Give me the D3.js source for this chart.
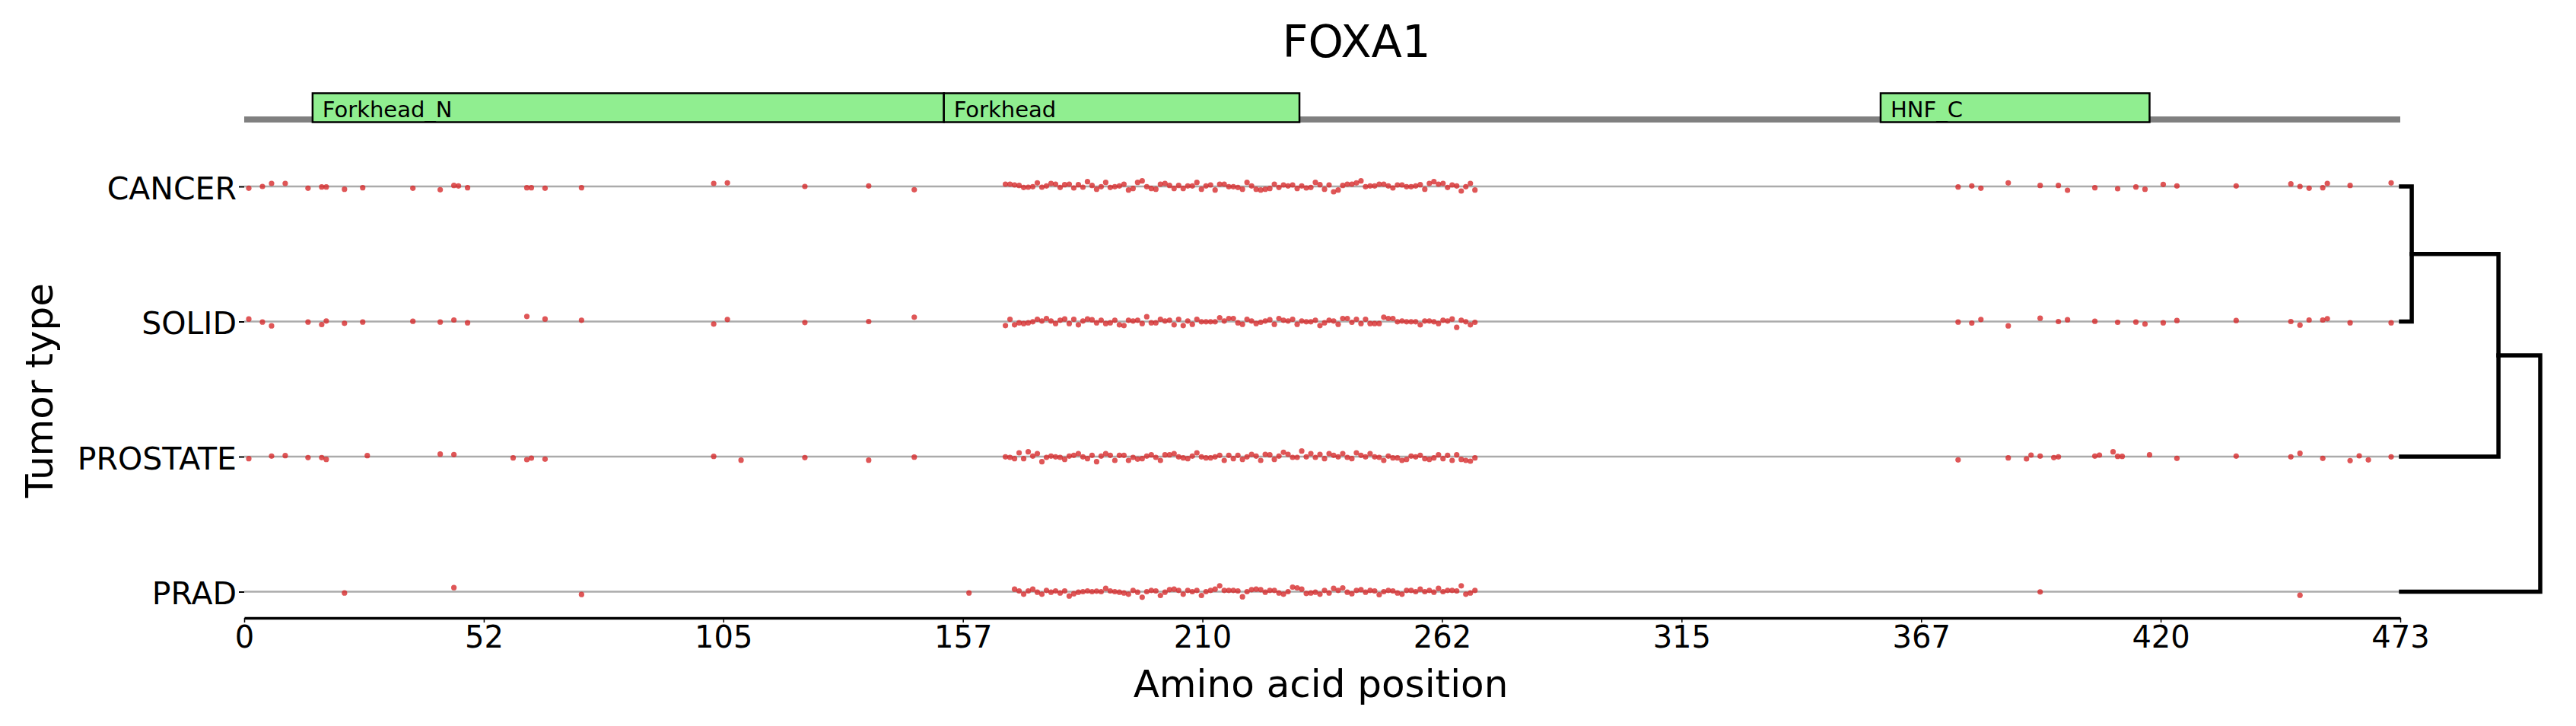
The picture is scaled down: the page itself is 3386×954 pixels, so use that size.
<!DOCTYPE html>
<html><head><meta charset="utf-8">
<script src="https://cdn.jsdelivr.net/npm/d3@7"></script>
<style>body{margin:0;background:#fff}svg{display:block}text{font-family:"DejaVu Sans",sans-serif;fill:#000}</style>
</head><body><svg id="c" width="3386" height="954"></svg>
<script>
// ---------------- data ----------------
const title = "FOXA1";
const proteinLength = 473;
const categories = ["CANCER", "SOLID", "PROSTATE", "PRAD"];
const xTickValues = [0, 52.56, 105.11, 157.67, 210.22, 262.78, 315.33, 367.89, 420.44, 473];
const xTickLabels = ["0", "52", "105", "157", "210", "262", "315", "367", "420", "473"];
const domainNames = ["Forkhead_N", "Forkhead", "HNF_C"];
const domainStarts = [15, 153.5, 359];
const domainEnds = [153.5, 231.5, 418];

const hotspotPositions = [167,168,169,170,171,172,173,174,175,176,177,178,179,180,181,182,183,184,185,186,187,188,189,190,191,192,193,194,195,196,197,198,199,200,201,202,203,204,205,206,207,208,209,210,211,212,213,214,215,216,217,218,219,220,221,222,223,224,225,226,227,228,229,230,231,232,233,234,235,236,237,238,239,240,241,242,243,244,245,246,247,248,249,250,251,252,253,254,255,256,257,258,259,260,261,262,263,264,265,266,267,268,269,270];

// CANCER
const cancerLeftPos = [1,4,6,9,14,17,18,22,26,37,43,46,47,49,62,63,66,74,103,106,123,137,147];
const cancerLeftJit = [7,0,-12,-12,7,2,2,11,5,7,13,-4,-2,5,5,5,7,5,-12,-14,0,-2,13];
const cancerHotJit = [-9,-9,-6,-4,4,3,1,-14,3,-2,-12,-9,4,-7,-9,6,-7,3,-19,-4,11,1,-16,4,1,-2,-9,14,8,-16,-22,1,8,11,-9,-12,-4,8,-4,8,-2,-2,-16,11,-2,-6,14,-9,-9,1,1,4,11,-16,-2,11,14,11,8,-9,4,-6,-2,-6,8,-2,6,4,-16,-7,11,-6,21,14,-4,-9,-9,-14,-22,1,-2,-2,-9,-9,-2,6,-6,-6,1,1,-2,-7,11,-12,-19,-9,-12,4,-6,-2,18,1,-12,14];
const cancerRightPos = [376,379,381,387,394,398,400,406,411,415,417,421,424,437,449,451,453,456,457,462,471];
const cancerRightJit = [2,-2,7,-14,-4,-4,15,5,9,2,11,-8,-2,-2,-10,0,7,5,-12,-4,-14];

// SOLID
const solidLeftPos = [1,4,6,14,17,18,22,26,37,43,46,49,62,66,74,103,106,123,137,147];
const solidLeftJit = [-10,2,17,2,12,-2,7,2,-1,2,-6,5,-20,-10,-5,10,-8,4,0,-17];
const solidHotJit = [16,-9,13,5,8,5,1,-9,-2,-12,-2,8,-5,-10,8,-9,13,-2,-10,-7,5,-5,8,5,-5,13,16,-5,-2,-5,8,-19,5,5,-9,-2,-5,13,-9,16,-2,11,-9,1,1,1,1,-15,-2,-12,-12,5,11,-9,-2,8,3,-2,-7,11,-12,-5,-2,-9,11,-2,1,1,-5,16,5,-5,-2,11,-12,-12,3,-9,8,-9,8,8,8,-17,-12,-12,1,-2,1,1,1,13,-2,-2,1,8,-5,-2,-10,23,-5,1,13,3];
const solidRightPos = [376,379,381,387,394,398,400,406,411,415,417,421,424,437,449,451,453,456,457,462,471];
const solidRightJit = [2,6,-8,17,-13,0,-7,-1,3,2,10,5,-4,-4,0,14,-6,-6,-11,5,5];

// PROSTATE
const prostateLeftPos = [1,6,9,14,17,18,27,43,46,59,62,63,66,103,109,123,137,147];
const prostateLeftJit = [8,-2,-4,4,4,11,-4,-10,-8,5,12,6,10,-1,14,4,14,2];
const prostateHotJit = [1,3,8,-15,8,-19,-2,-12,20,3,-2,1,3,11,-2,-5,-12,1,8,-5,20,-2,-12,-5,15,-5,-5,15,3,10,8,-2,-7,3,15,-7,-7,-12,1,5,8,-2,-15,1,5,5,1,-5,15,-5,8,-5,11,1,-9,-2,15,-9,-7,11,-2,-17,-9,3,3,-22,1,-12,3,-9,8,-12,-5,1,-12,3,8,-15,-5,1,-12,1,3,15,-2,5,5,15,11,-2,1,-5,8,11,5,-7,8,-5,15,-7,11,15,18,5];
const prostateRightPos = [376,387,391,392,394,397,398,406,407,410,411,412,418,424,437,449,451,456,462,464,466,471];
const prostateRightJit = [13,5,9,-6,-2,4,1,-2,-6,-19,-1,-1,-7,7,-2,1,-13,7,16,-3,13,1];

// PRAD
const pradLeftPos = [22,46,74,159];
const pradLeftJit = [5,-16,11,5];
const pradHotPos = hotspotPositions.slice(2);
const pradHotJit = [-10,-3,10,-3,-10,2,10,-5,2,-3,5,-3,17,8,2,0,-3,0,-2,0,-13,-3,0,2,5,10,-5,2,22,0,-5,-3,15,2,-8,-10,-5,10,-5,0,-5,15,0,-5,-10,-23,-5,-5,-5,-3,20,0,-8,-10,-8,2,-5,-5,5,10,0,-18,-15,-10,7,5,2,10,-5,5,-13,-5,-15,2,8,-5,-8,2,-5,-3,12,0,-5,-3,5,10,-5,-5,0,-10,0,-5,2,-13,0,-5,-5,-3,-23,10,5,-5];
const pradRightPos = [394,451];
const pradRightJit = [1,14];

// dendrogram (leaf order = categories); merge heights, relative
const dendroHeights = [0.077, 0.70, 1.0];

// ---------------- build ----------------
const rows = [
  {cat:"CANCER", pos:[...cancerLeftPos, ...hotspotPositions, ...cancerRightPos], jit:[...cancerLeftJit, ...cancerHotJit, ...cancerRightJit]},
  {cat:"SOLID", pos:[...solidLeftPos, ...hotspotPositions, ...solidRightPos], jit:[...solidLeftJit, ...solidHotJit, ...solidRightJit]},
  {cat:"PROSTATE", pos:[...prostateLeftPos, ...hotspotPositions, ...prostateRightPos], jit:[...prostateLeftJit, ...prostateHotJit, ...prostateRightJit]},
  {cat:"PRAD", pos:[...pradLeftPos, ...pradHotPos, ...pradRightPos], jit:[...pradLeftJit, ...pradHotJit, ...pradRightJit]}
];
const points = [];
rows.forEach(r => r.pos.forEach((p, i) => points.push({cat:r.cat, pos:p, jit:r.jit[i]})));

const svg = d3.select("#c");
svg.append("rect").attr("width", 3386).attr("height", 954).attr("fill", "#fff");

const x = d3.scaleLinear().domain([0, proteinLength]).range([321, 3155]);
const y = d3.scalePoint().domain(categories).range([245, 777.5]);
const jitter = d3.scaleLinear().domain([-30, 30]).range([-10, 10]);
const axisY = 812;

// title
svg.append("text").attr("x", 1783).attr("y", 75).attr("text-anchor", "middle")
  .style("font-size", "59px").text(title);

// protein backbone
const backboneY = 157;
svg.append("line").attr("x1", x(0)).attr("x2", x(proteinLength))
  .attr("y1", backboneY).attr("y2", backboneY)
  .attr("stroke", "#808080").attr("stroke-width", 8);

// domains
const dg = svg.append("g");
domainNames.forEach((name, i) => {
  dg.append("rect").attr("x", x(domainStarts[i])).attr("y", 122.5)
    .attr("width", x(domainEnds[i]) - x(domainStarts[i])).attr("height", 38)
    .attr("fill", "#90ee90").attr("stroke", "#000").attr("stroke-width", 2.5);
  dg.append("text").attr("x", x(domainStarts[i]) + 13).attr("y", 154)
    .style("font-size", "29px").text(name);
});

// row lines
svg.append("g").selectAll("line").data(categories).join("line")
  .attr("x1", x(0)).attr("x2", x(proteinLength))
  .attr("y1", d => y(d)).attr("y2", d => y(d))
  .attr("stroke", "#ababab").attr("stroke-width", 2.5);

// mutation points
svg.append("g").selectAll("circle").data(points).join("circle")
  .attr("cx", d => x(d.pos)).attr("cy", d => y(d.cat) + jitter(d.jit))
  .attr("r", 3.6).attr("fill", "#d62728").attr("fill-opacity", 0.78);

// x axis
const xAxis = svg.append("g").attr("transform", `translate(0,${axisY})`)
  .call(d3.axisBottom(x).tickValues(xTickValues).tickFormat((d, i) => xTickLabels[i])
    .tickSize(6).tickSizeOuter(0).tickPadding(5));
xAxis.select(".domain").attr("stroke", "#000").attr("stroke-width", 3.5);
xAxis.selectAll(".tick line").attr("stroke", "#000").attr("stroke-width", 1.5);
xAxis.selectAll(".tick text").style("font-size", "40px").attr("font-family", null);

// y axis
const yAxis = svg.append("g").attr("transform", `translate(${x(0)},0)`)
  .call(d3.axisLeft(y).tickSize(7).tickPadding(3));
yAxis.select(".domain").remove();
yAxis.selectAll(".tick line").attr("stroke", "#000").attr("stroke-width", 2);
yAxis.selectAll(".tick text").style("font-size", "41px").attr("dy", "0.4em").attr("font-family", null);

// axis labels
svg.append("text").attr("x", 1736).attr("y", 916).attr("text-anchor", "middle")
  .style("font-size", "50px").text("Amino acid position");
svg.append("text").attr("transform", "translate(69,513) rotate(-90)").attr("text-anchor", "middle")
  .style("font-size", "50px").text("Tumor type");

// dendrogram
const dx = d3.scaleLinear().domain([0, 1]).range([3156, 3339]);
const dgr = svg.append("g").attr("fill", "none").attr("stroke", "#000").attr("stroke-width", 5.5)
  .attr("stroke-linejoin", "miter").attr("stroke-linecap", "square");
let prevY = y(categories[0]), prevH = 0;
for (let k = 0; k < dendroHeights.length; k++) {
  const leaf = categories[k + 1];
  const h = dendroHeights[k];
  const ly = y(leaf);
  const p = d3.path();
  p.moveTo(dx(prevH), prevY);
  p.lineTo(dx(h), prevY);
  p.lineTo(dx(h), ly);
  p.lineTo(dx(0), ly);
  dgr.append("path").attr("d", p.toString());
  prevY = (prevY + ly) / 2;
  prevH = h;
}
</script></body></html>
